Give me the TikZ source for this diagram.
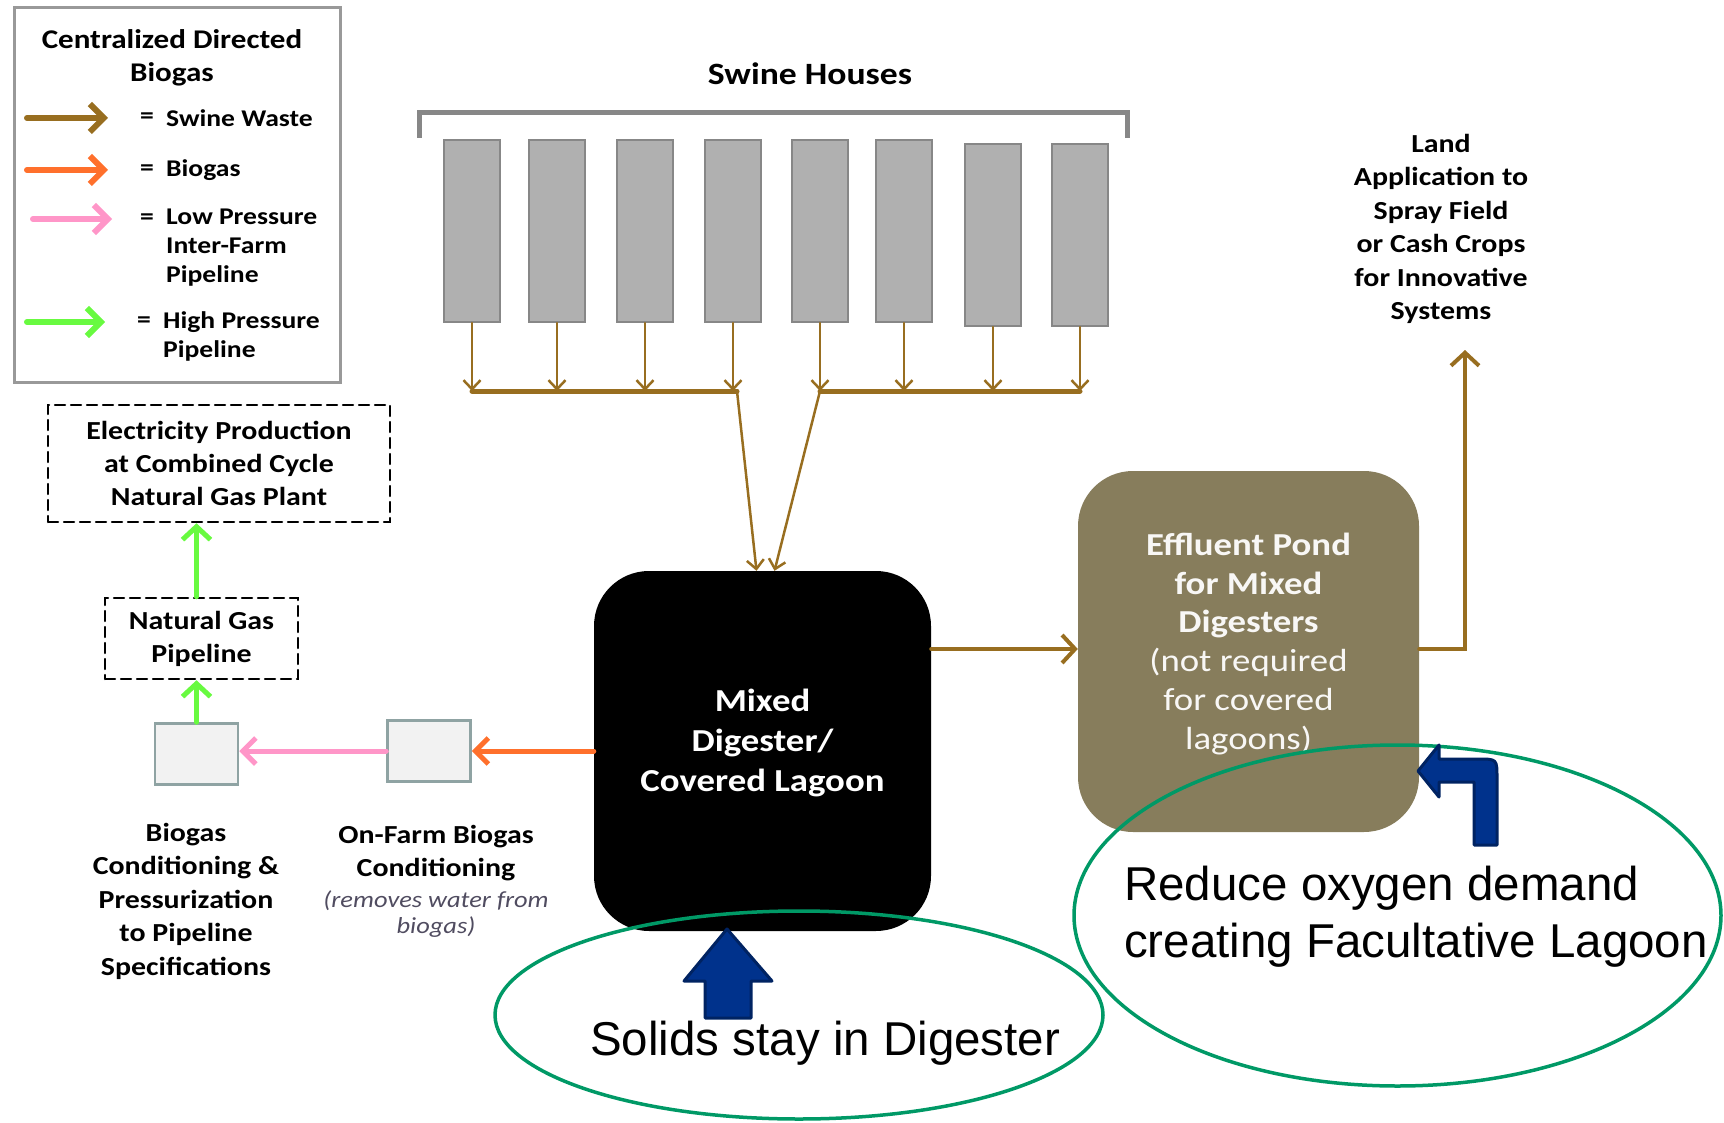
\documentclass[tikz,border=0pt]{standalone}
\usepackage{fontspec}
\setmainfont{Carlito}[FakeStretch=1.15]
\newfontfamily\calloutfont{Liberation Sans}
\usetikzlibrary{calc, positioning}
\usetikzlibrary{arrows.meta}

\definecolor{waste}{RGB}{152,110,32}
\definecolor{biogas}{RGB}{255,112,44}
\definecolor{lowpipe}{RGB}{255,150,200}
\definecolor{highpipe}{RGB}{104,250,64}
\definecolor{pondfill}{RGB}{135,125,92}
\definecolor{housefill}{RGB}{176,176,176}
\definecolor{houseedge}{RGB}{135,135,135}
\definecolor{condedge}{RGB}{143,163,163}
\definecolor{calloutgreen}{RGB}{0,153,102}
\definecolor{calloutblue}{RGB}{0,50,140}
\definecolor{notegray}{RGB}{80,76,96}

\newcommand{\txtsize}[2]{\fontsize{#1}{#2}\selectfont}

\begin{document}
\begin{tikzpicture}[x=1pt, y=-1pt, line cap=round,
  house/.style={draw=houseedge, fill=housefill, line width=2pt, minimum width=56pt, minimum height=182pt, inner sep=0pt},
  drop/.style={draw=waste, line width=2.5pt, -{Straight Barb[length=9pt,width=17pt]}},
  collector/.style={draw=waste, line width=5pt},
  mainflow/.style={draw=waste, line width=4pt, -{Straight Barb[length=13pt,width=28pt]}},
  gasflow/.style={draw=biogas, line width=5pt, -{Straight Barb[length=13pt,width=26pt]}},
  lowflow/.style={draw=lowpipe, line width=5pt, -{Straight Barb[length=13pt,width=26pt]}},
  highflow/.style={draw=highpipe, line width=5pt, -{Straight Barb[length=13pt,width=28pt]}},
  legarrow/.style={line width=6pt, -{Straight Barb[length=14pt,width=28pt]}},
  dashbox/.style={draw, dash pattern=on 10pt off 6pt, line width=2.5pt, align=center, inner sep=0pt, font=\bfseries\txtsize{26}{33}},
  condbox/.style={draw=condedge, fill=gray!10, line width=2.5pt, minimum width=83pt, minimum height=61pt, inner sep=0pt},
  labeltext/.style={font=\bfseries\txtsize{26}{33.5}, align=center, inner sep=0pt},
  legtext/.style={font=\bfseries\txtsize{24}{29}, align=left, inner sep=0pt},
  callout/.style={draw=calloutgreen, line width=3.5pt},
  blockarrow/.style={fill=calloutblue, draw=calloutblue!70!black, line width=3pt, line join=round},
  callouttext/.style={font=\calloutfont\txtsize{47.5}{57}, inner sep=0pt, anchor=base west}]
\useasboundingbox (0,0) rectangle (1724,1123);

% Legend
\node[draw=gray!80, line width=3pt, minimum width=326pt, minimum height=375pt, anchor=north west] (legend) at (13,6) {};
\node[font=\bfseries\txtsize{27}{33}, align=center] (legtitle) at (172,58) {Centralized Directed\\Biogas};
\draw[legarrow, waste] (27,118) -- (108,118);
\draw[legarrow, biogas] (27,170) -- (108,170);
\draw[legarrow, lowpipe] (33,219) -- (112,219);
\draw[legarrow, highpipe] (27,322) -- (105,322);
\node[legtext] (eqwaste) at (147,118) {=};
\node[legtext] (eqgas) at (147,170) {=};
\node[legtext] (eqlow) at (147,219) {=};
\node[legtext] (eqhigh) at (144,322) {=};
\node[legtext, anchor=west] (legwaste) at (166,118) {Swine Waste};
\node[legtext, anchor=west] (leggas) at (166,170) {Biogas};
\node[legtext, anchor=west] (leglow) at (166,248) {Low Pressure\\Inter-Farm\\Pipeline};
\node[legtext, anchor=west] (leghigh) at (163,336) {High Pressure\\Pipeline};

% Swine houses
\node[font=\bfseries\txtsize{31}{36}] (houses) at (810,74) {Swine Houses};
\draw[houseedge, line width=5pt, line cap=butt] (419,138) -- (419,113) -- (1127,113) -- (1127,138);
\coordinate (collL) at (0,391);
\coordinate (joinL) at (737,391);
\coordinate (joinR) at (820,391);

% Main process blocks (text depth lifts the lines a little above centre)
\node[fill=black, rounded corners=55pt, minimum width=337pt, minimum height=360pt, align=center,
      text=white, text depth=22pt, font=\bfseries\txtsize{32}{40}] (dig) at (762.5,751) {Mixed\\Digester/\\Covered Lagoon};
\node[fill=pondfill, rounded corners=55pt, minimum width=341pt, minimum height=361pt, align=center,
      text=white!94!pondfill, text depth=21pt, font=\txtsize{32}{38.8}] (pond) at (1248.5,651.5)
      {\textbf{Effluent Pond}\\\textbf{for Mixed}\\\textbf{Digesters}\\(not required\\for covered\\lagoons)};
\node[labeltext] (land) at (1441,229) {Land\\Application to\\Spray Field\\or Cash Crops\\for Innovative\\Systems};
\coordinate (flow) at (0,649);
\coordinate (landin) at (1465,350);

% Gas handling chain
\node[condbox] (onfarm) at (429,751) {};
\node[condbox] (cond) at (196.5,754) {};
\node[dashbox, minimum width=193pt, minimum height=81pt] (ngpipe) at (201.5,638.5) {Natural Gas\\Pipeline};
\node[dashbox, minimum width=342pt, minimum height=117pt] (elec) at (219,463.5)
      {Electricity Production\\at Combined Cycle\\Natural Gas Plant};
\node[labeltext] (condlbl) at (186,901) {Biogas\\Conditioning \&\\Pressurization\\to Pipeline\\Specifications};
\node[labeltext] (onfarmlbl) at (436,853) {On-Farm Biogas\\Conditioning};
\node[font=\itshape\txtsize{23}{26}, text=notegray, align=center, inner sep=0pt] (onfarmnote) at (436,914) {(removes water from\\biogas)};

% Swine waste flow
\foreach \x [count=\i] in {472,557,645,733,820,904,993,1080} {
  \pgfmathsetmacro{\htop}{ifthenelse(\i>6,143,139)}
  \node[house, anchor=north] (h\i) at (\x,\htop) {};
  \draw[drop] (h\i.south) -- (h\i.south |- collL);
}
\draw[collector] (h1.south |- collL) -- (joinL);
\draw[collector] (joinR) -- (h8.south |- collL);
\draw[drop] (joinL) -- ([xshift=-6pt]dig.north);
\draw[drop] (joinR) -- ([xshift=12pt]dig.north);
\draw[mainflow] (dig.east |- flow) -- (pond.west |- flow);
\draw[mainflow] (pond.east |- flow) -| (landin);

% Biogas flow
\draw[gasflow] (dig.west) -- (onfarm.east);
\draw[lowflow] (onfarm.west) -- (cond.east |- onfarm.west);
\draw[highflow] (cond.north) -- (cond.north |- ngpipe.south);
\draw[highflow] (cond.north |- ngpipe.north) -- (cond.north |- elec.south);

% Callouts
\draw[callout] (799,1015) ellipse [x radius=304pt, y radius=104pt];
\draw[callout] (1397.5,915.5) ellipse [x radius=323.5pt, y radius=170.5pt];
\filldraw[blockarrow] (705,1018) -- (705,981) -- (684,981) -- (727,929) -- (772,981) -- (751,981) -- (751,1018) -- cycle;
\filldraw[blockarrow] (1474,845) -- (1474,782) -- (1439,782) -- (1439,797) -- (1418,771) -- (1439,745)
  -- (1439,759) -- (1478,759) .. controls (1497,759) .. (1497,778) -- (1497,845) -- cycle;
\node[callouttext] (solids) at (590,1055) {Solids stay in Digester};
\node[callouttext] (oxygen) at (1124,900) {Reduce oxygen demand};
\node[callouttext] (facult) at (1124,957) {creating Facultative Lagoon};
\end{tikzpicture}
\end{document}
